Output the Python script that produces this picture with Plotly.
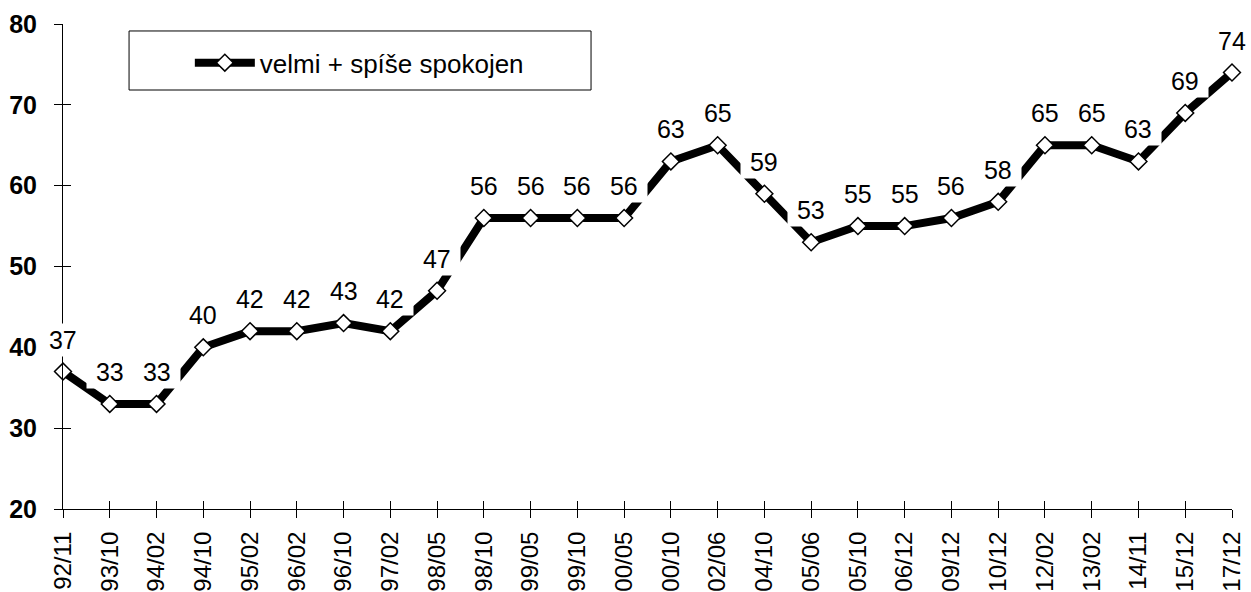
import plotly.graph_objects as go

categories = ["92/11", "93/10", "94/02", "94/10", "95/02", "96/02", "96/10", "97/02",
              "98/05", "98/10", "99/05", "99/10", "00/05", "00/10", "02/06", "04/10",
              "05/06", "05/10", "06/12", "09/12", "10/12", "12/02", "13/02", "14/11",
              "15/12", "17/12"]
values = [37, 33, 33, 40, 42, 42, 43, 42, 47, 56, 56, 56, 56, 63, 65, 59,
          53, 55, 55, 56, 58, 65, 65, 63, 69, 74]
series_name = "velmi + spíše spokojen"
y_ticks = [20, 30, 40, 50, 60, 70, 80]

idx = list(range(len(categories)))
FONT = "Liberation Sans, Arial, sans-serif"

fig = go.Figure()
fig.add_trace(go.Scatter(
    x=idx, y=values, mode="lines+markers", name=series_name,
    line=dict(color="black", width=8),
    marker=dict(symbol="diamond", size=13, color="white",
                line=dict(color="black", width=1.5)),
    cliponaxis=False,
))
# invisible trace on overlay axes so they render
fig.add_trace(go.Scatter(x=[idx[0]], y=[y_ticks[0]], xaxis="x2", yaxis="y2",
                         mode="markers", marker=dict(opacity=0),
                         showlegend=False, hoverinfo="skip"))

last = len(idx) - 1
for i, v in zip(idx, values):
    txt = str(v) if i == last else "\u00a0" + str(v) + "\u00a0"
    fig.add_annotation(x=i, y=v, text=txt, showarrow=False, yshift=32,
                       font=dict(family=FONT, size=25, color="black"),
                       bgcolor="white", borderpad=2)

fig.add_shape(type="rect", xref="paper", yref="paper",
              x0=0.0565, x1=0.4517, y0=0.8639, y1=0.9856,
              line=dict(color="black", width=1), fillcolor="white", layer="below")

fig.update_layout(
    width=1251, height=592,
    margin=dict(l=63, r=19, t=24, b=83),
    paper_bgcolor="white", plot_bgcolor="white",
    font=dict(family=FONT, color="black"),
    showlegend=True,
    legend=dict(x=0.1085, y=0.92, xanchor="left", yanchor="middle",
                bgcolor="rgba(0,0,0,0)", borderwidth=0,
                font=dict(family=FONT, size=26, color="black"),
                itemwidth=60),
    xaxis=dict(range=[0, len(categories) - 1], tickmode="array", tickvals=idx,
               ticktext=categories, tickangle=-90, ticks="outside", ticklen=8,
               tickcolor="black", tickwidth=1, showline=True, linecolor="black",
               linewidth=1, showgrid=False, zeroline=False, ticklabelstandoff=4,
               automargin=False,
               tickfont=dict(family=FONT, size=24, color="black")),
    yaxis=dict(range=[20, 80], tickmode="array", tickvals=y_ticks,
               ticks="outside", ticklen=8, tickcolor="black", tickwidth=1,
               showline=True, linecolor="black", linewidth=1, showgrid=False,
               zeroline=False, ticklabelstandoff=12, automargin=False,
               tickfont=dict(family=FONT, size=25, color="black", weight="bold")),
    xaxis2=dict(overlaying="x", range=[0, len(categories) - 1], tickmode="array",
                tickvals=idx, ticks="inside", ticklen=8, tickcolor="black",
                showticklabels=False, showgrid=False, zeroline=False,
                showline=False, side="bottom"),
    yaxis2=dict(overlaying="y", range=[20, 80], tickmode="array", tickvals=y_ticks,
                ticks="inside", ticklen=8, tickcolor="black",
                showticklabels=False, showgrid=False, zeroline=False,
                showline=False, side="left"),
)

fig.write_html("out.html", config={"displayModeBar": False},
               post_script="document.body.style.margin='0px';")
